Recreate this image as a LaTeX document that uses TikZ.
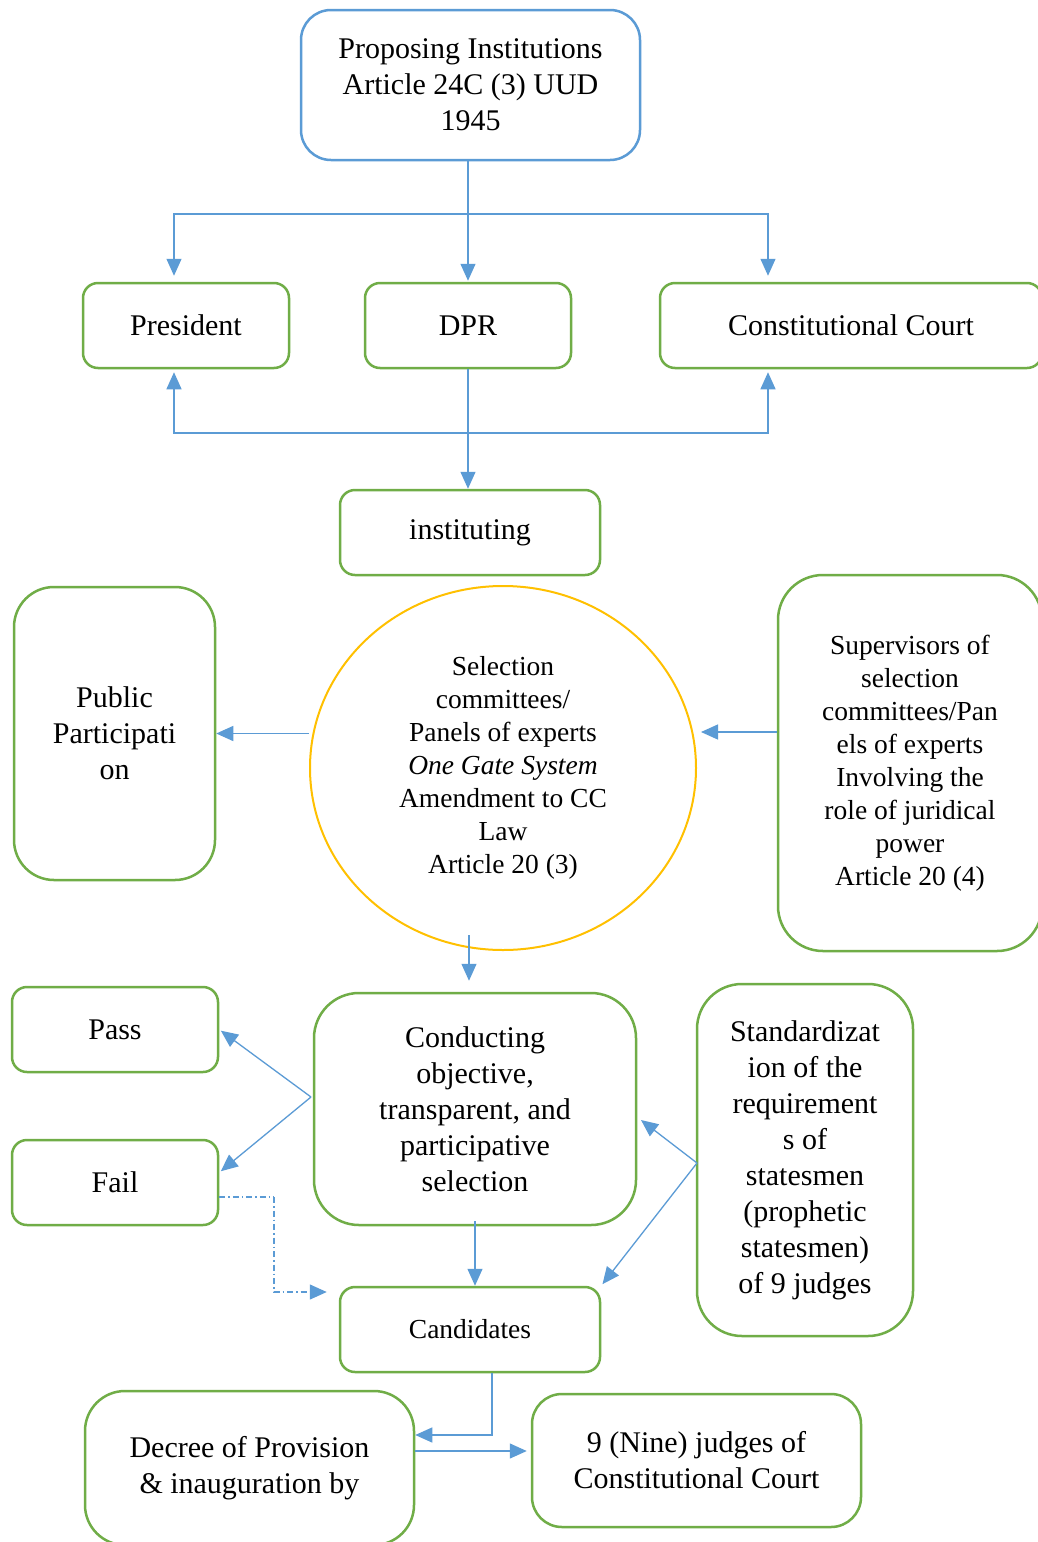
\documentclass[tikz,border=0pt]{standalone}
\usepackage{fontspec}
\setmainfont{Liberation Serif}
\usetikzlibrary{arrows.meta,shapes.geometric,calc}
\definecolor{cblue}{HTML}{5B9BD5}
\definecolor{cgreen}{HTML}{70AD47}
\definecolor{corange}{HTML}{FFC000}
\begin{document}
\begin{tikzpicture}[x=1pt,y=-1pt,
  bigfont/.style={font=\fontsize{30}{36}\selectfont},
  smallfont/.style={font=\fontsize{27.5}{33}\selectfont},
  gbox/.style={draw=cgreen, line width=2.5pt, rounded corners=#1, align=center, inner sep=0pt, bigfont},
  gbox/.default=15pt,
  conn/.style={draw=cblue, line width=1.3pt},
  arr/.style={conn, -{Triangle[length=17pt,width=15pt]}},
  dashdot/.style={dash pattern=on 6pt off 3pt on 1.5pt off 3pt}
]
\useasboundingbox[fill=white] (0,0) rectangle (1037,1542);

% nodes
\node[gbox=30pt, draw=cblue, minimum width=339pt, minimum height=150pt] (prop) at (470.5,85) {Proposing Institutions\\Article 24C (3) UUD\\1945};
\node[gbox, minimum width=206pt, minimum height=85pt] (pres) at (186,325.5) {President};
\node[gbox, minimum width=206pt, minimum height=85pt] (dpr) at (468,325.5) {DPR};
\node[gbox, minimum width=382pt, minimum height=85pt] (cc) at (851,325.5) {Constitutional Court};
\node[gbox, minimum width=260pt, minimum height=85pt] (inst) at (470,532.5) {instituting};
\node[ellipse, draw=corange, line width=2pt, minimum width=386pt, minimum height=364pt, align=center, inner sep=0pt, smallfont] (circ) at (503,768)
  {Selection\\committees/\\Panels of experts\\\textit{One Gate System}\\Amendment to CC\\Law\\Article 20 (3)};
\node[gbox=40pt, minimum width=201pt, minimum height=293pt] (pub) at (114.5,733.5) {Public\\Participati\\on};
\node[gbox=45pt, minimum width=264pt, minimum height=376pt, smallfont] (sup) at (910,763)
  {Supervisors of\\selection\\committees/Pan\\els of experts\\Involving the\\role of juridical\\power\\Article 20 (4)};
\node[gbox=45pt, minimum width=322pt, minimum height=232pt] (cond) at (475,1109)
  {Conducting\\objective,\\transparent, and\\participative\\selection};
\node[gbox, minimum width=206pt, minimum height=85pt] (pass) at (115,1029.5) {Pass};
\node[gbox, minimum width=206pt, minimum height=85pt] (fail) at (115,1182.5) {Fail};
\node[gbox=45pt, minimum width=216pt, minimum height=352pt] (std) at (805,1160)
  {Standardizat\\ion of the\\requirement\\s of\\statesmen\\(prophetic\\statesmen)\\of 9 judges};
\node[gbox, minimum width=260pt, minimum height=85pt, smallfont] (cand) at (470,1329.5) {Candidates};
\node[gbox=40pt, minimum width=329pt, minimum height=154pt] (dec) at (249.5,1468) {Decree of Provision\\\& inauguration by};
\node[gbox=30pt, minimum width=329pt, minimum height=133pt] (nine) at (696.5,1460.5) {9 (Nine) judges of\\Constitutional Court};

% junction coordinates
\coordinate (hl) at (174,214);
\coordinate (hr) at (768,214);
\coordinate (bl) at (174,433);
\coordinate (br) at (768,433);
\coordinate (cbot) at (469,935);
\coordinate (j1) at (311,1097);
\coordinate (j2) at (697,1163);
\coordinate (condin) at (641,1120);
\coordinate (fd) at (274,1197);
\coordinate (cd) at (492,1435);

% connectors
\draw[arr, shorten >=1pt] (prop.south -| dpr.north) -- (dpr.north);
\draw[arr, shorten >=6pt] (hr) -- (hl) -- (hl |- pres.north);
\draw[arr, shorten >=6pt] (hl) -- (hr) -- (hr |- cc.north);
\draw[arr, shorten >=3pt] (br) -- (bl) -- (bl |- pres.south);
\draw[arr, shorten >=3pt] (bl) -- (br) -- (br |- cc.south);
\draw[arr] (dpr.south) -- (dpr.south |- inst.north);
\draw[arr] (circ.west |- pub.east) -- (pub.east);
\draw[arr, shorten >=4pt] (sup.west |- 0,732) -- (circ.east |- 0,732);
\draw[arr, shorten >=11pt] (cbot) -- (cbot |- cond.north);
\draw[arr, shorten >=2pt] (j1) -- (pass.east);
\draw[arr, shorten >=2pt] (j1) -- ([yshift=10pt]fail.east);
\draw[conn, dashdot] ([yshift=-14.5pt]fail.east) -- (fd);
\draw[arr, dashdot, shorten >=12pt] (fd) -- (fd |- 0,1292) -- (cand.west |- 0,1292);
\draw[arr] ([yshift=5pt]cond.south) -- (cond.south |- cand.north);
\draw[arr] (j2) -- (condin);
\draw[arr, shorten >=2pt] (j2) -- (cand.north east);
\draw[arr] (cand.south -| cd) -- (cd) -- (cd -| dec.east);
\draw[arr, shorten >=4pt] (dec.east |- 0,1451) -- (nine.west |- 0,1451);
\end{tikzpicture}
\end{document}
